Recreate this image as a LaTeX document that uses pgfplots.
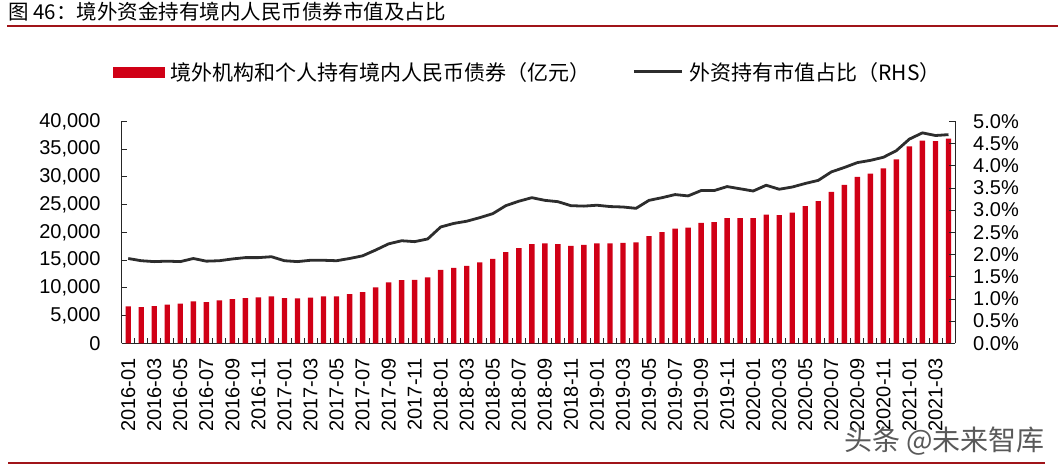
\documentclass[border=0pt]{standalone}
\usepackage{pgfplots}
\pgfplotsset{compat=1.18}
\usepackage{fontspec}
\setmainfont{Liberation Sans}
\newfontfamily\cjk{Noto Sans CJK SC}
\definecolor{barred}{RGB}{208,0,22}
\definecolor{linegray}{RGB}{45,45,45}
\definecolor{rule}{RGB}{160,20,25}
\begin{document}
\begin{tikzpicture}[x=1pt,y=1pt]
\path[use as bounding box] (0,0) rectangle (1058,-469);
\node[anchor=base west, inner sep=0pt, font=\cjk\fontsize{20.5}{24}\selectfont] at (8,-19.5) {图 46：境外资金持有境内人民币债券市值及占比};
\draw[rule, line width=2pt] (7,-26) -- (1058,-26);
\draw[rule, line width=2pt] (8,-463) -- (1045,-463);
\begin{axis}[
  at={(121.7pt,-343.3pt)}, anchor=south west,
  scale only axis, width=833.3pt, height=222pt,
  xmin=-0.5, xmax=63.5, ymin=0, ymax=40000,
  scaled y ticks=false,
  axis x line*=bottom, axis y line*=left,
  axis line style={black!85, line width=0.9pt},
  every tick/.style={black!85, line width=0.8pt},
  tick align=inside,
  major tick length=5.5pt, minor tick length=5.5pt,
  ytick={0,5000,...,40000},
  yticklabels={0,{5,000},{10,000},{15,000},{20,000},{25,000},{30,000},{35,000},{40,000}},
  yticklabel style={font=\fontsize{20}{24}\selectfont, inner sep=0pt},
  yticklabel shift=21pt,
  xtick={0,2,...,62},
  xticklabels={2016-01,2016-03,2016-05,2016-07,2016-09,2016-11,2017-01,2017-03,2017-05,2017-07,2017-09,2017-11,2018-01,2018-03,2018-05,2018-07,2018-09,2018-11,2019-01,2019-03,2019-05,2019-07,2019-09,2019-11,2020-01,2020-03,2020-05,2020-07,2020-09,2020-11,2021-01,2021-03},
  major x tick style={draw=none},
  minor xtick={0.5,1.5,...,62.5},
  xticklabel style={rotate=90, anchor=east, inner sep=0pt, font=\fontsize{20}{24}\selectfont},
  xticklabel shift=15pt,
  /pgf/number format/assume math mode=true,
  legend style={at={(-0.0104,1.2221)}, anchor=west, draw=none, fill=none,
    inner sep=0pt, outer sep=0pt, legend columns=2,
    font=\cjk\fontsize{21}{24}\selectfont,
    nodes={inner sep=0pt},
    /tikz/every odd column/.append style={column sep=6pt},
    /tikz/every even column/.append style={column sep=42pt}},
  legend cell align=left,
]
\addplot[ybar, bar width=5.4pt, bar shift=0pt, fill=barred, draw=none, forget plot] coordinates {
(0,6655)(1,6535)(2,6715)(3,6955)(4,7134)(5,7554)(6,7434)(7,7734)(8,7974)(9,8153)
(10,8273)(11,8453)(12,8153)(13,8094)(14,8213)(15,8453)(16,8453)(17,8873)(18,9233)(19,10072)
(20,10971)(21,11391)(22,11451)(23,11871)(24,13249)(25,13609)(26,13969)(27,14568)(28,15228)(29,16427)
(30,17146)(31,17866)(32,17986)(33,17866)(34,17566)(35,17746)(36,17986)(37,17986)(38,18106)(39,18165)
(40,19305)(41,20024)(42,20683)(43,20863)(44,21703)(45,21823)(46,22542)(47,22542)(48,22542)(49,23201)
(50,23082)(51,23561)(52,24700)(53,25600)(54,27278)(55,28537)(56,29976)(57,30576)(58,31535)(59,33153)
(60,35492)(61,36511)(62,36451)(63,36871)};
\addlegendimage{legend image code/.code={\fill[barred] (0pt,-5pt) rectangle (51pt,5pt);}}
\addlegendentry{境外机构和个人持有境内人民币债券（亿元）}
\addlegendimage{legend image code/.code={\draw[linegray, line width=3pt] (0pt,0pt) -- (48pt,0pt);}}
\addlegendentry{外资持有市值占比（RHS）}
\end{axis}
\begin{axis}[
  at={(121.7pt,-343.3pt)}, anchor=south west,
  scale only axis, width=833.3pt, height=222pt,
  xmin=-0.5, xmax=63.5, ymin=0, ymax=5,
  axis x line=none, axis y line*=right,
  axis line style={black!85, line width=0.9pt},
  every tick/.style={black!85, line width=0.8pt},
  tick align=inside, major tick length=5.5pt,
  ytick={0,0.5,...,5},
  yticklabels={0.0\%,0.5\%,1.0\%,1.5\%,2.0\%,2.5\%,3.0\%,3.5\%,4.0\%,4.5\%,5.0\%},
  yticklabel style={font=\fontsize{20}{24}\selectfont, inner sep=0pt},
  yticklabel shift=18pt,
  /pgf/number format/assume math mode=true,
]
\addplot[linegray, line width=2.8pt, line join=round, mark=none] coordinates {
(0,1.91)(1,1.86)(2,1.84)(3,1.85)(4,1.84)(5,1.91)(6,1.85)(7,1.86)(8,1.90)(9,1.93)
(10,1.93)(11,1.95)(12,1.86)(13,1.84)(14,1.87)(15,1.87)(16,1.86)(17,1.91)(18,1.97)(19,2.10)
(20,2.24)(21,2.31)(22,2.29)(23,2.35)(24,2.62)(25,2.70)(26,2.75)(27,2.83)(28,2.92)(29,3.10)
(30,3.20)(31,3.28)(32,3.22)(33,3.19)(34,3.10)(35,3.09)(36,3.11)(37,3.08)(38,3.07)(39,3.04)
(40,3.22)(41,3.28)(42,3.35)(43,3.32)(44,3.44)(45,3.44)(46,3.53)(47,3.48)(48,3.43)(49,3.56)
(50,3.47)(51,3.52)(52,3.60)(53,3.67)(54,3.86)(55,3.96)(56,4.07)(57,4.12)(58,4.19)(59,4.34)
(60,4.60)(61,4.74)(62,4.68)(63,4.70)};
\end{axis}
\node[anchor=east, inner sep=0pt, text=black!65, font=\cjk\fontsize{28}{30}\selectfont] at (1045,-441) {头条 @未来智库};
\end{tikzpicture}
\end{document}
